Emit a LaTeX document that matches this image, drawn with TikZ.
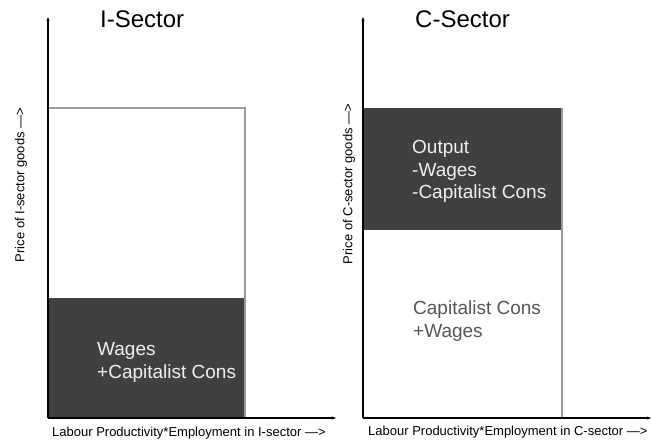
\documentclass[tikz,border=0pt]{standalone}
\usepackage{fontspec}
\setmainfont{Liberation Sans}
\usetikzlibrary{arrows.meta}
\definecolor{darkfill}{HTML}{404040}
\definecolor{boxline}{HTML}{9A9A9A}
\definecolor{lighttext}{HTML}{F0F0F0}
\definecolor{graytext}{HTML}{555555}
\begin{document}
\begin{tikzpicture}[x=1pt,y=-1pt,
  axis/.style={draw=black,line width=1.1pt,-{Stealth[length=4pt,width=3pt]}},
  frame/.style={draw=boxline,line width=1.2pt},
  dark/.style={fill=darkfill},
  title/.style={anchor=base west,inner sep=0pt,font=\fontsize{24}{28}\selectfont},
  axlabel/.style={inner sep=0pt,font=\fontsize{13}{15}\selectfont},
  boxtext/.style={anchor=base west,inner sep=0pt,align=left,font=\fontsize{19}{22.5}\selectfont}]
\useasboundingbox (0,0) rectangle (651,441);
% ---------- I-sector ----------
\coordinate (Io) at (48,418);
\coordinate (Iy) at (48,17);
\coordinate (Ix) at (336,418);
\coordinate (Itl) at (48,108);
\coordinate (Itr) at (245,108);
\coordinate (Imr) at (245,298);
\coordinate (Ibr) at (245,418);
\fill[dark] (48,298) rectangle (Ibr);
\draw[frame] (Itl) -- (Itr) -- (Ibr);
\draw[axis] (Io) -- (Iy);
\draw[axis] (Io) -- (Ix);
\node[title] (Ititle) at (100,28) {I-Sector};
\node[axlabel,rotate=90] (Iylab) at (21,185) {Price of I-sector goods —>};
\node[axlabel,anchor=base west] (Ixlab) at (52,436) {Labour Productivity*Employment in I-sector —>};
\node[boxtext,text=lighttext] (Iwages) at (97,378) {Wages\\+Capitalist Cons};
% ---------- C-sector ----------
\coordinate (Co) at (363,418);
\coordinate (Cy) at (363,17);
\coordinate (Cx) at (651,418);
\coordinate (Ctl) at (363,108);
\coordinate (Ctr) at (562,108);
\coordinate (Cmr) at (562,230);
\coordinate (Cbr) at (562,418);
\fill[dark] (Ctl) rectangle (Cmr);
\draw[frame] (Ctr) -- (Cbr);
\draw[axis] (Co) -- (Cy);
\draw[axis] (Co) -- (Cx);
\node[title] (Ctitle) at (415,28) {C-Sector};
\node[axlabel,rotate=90] (Cylab) at (349,184) {Price of C-sector goods —>};
\node[axlabel,anchor=base west] (Cxlab) at (368,435) {Labour Productivity*Employment in C-sector —>};
\node[boxtext,text=lighttext] (Cout) at (412,199) {Output\\-Wages\\-Capitalist Cons};
\node[boxtext,text=graytext] (Ccons) at (413,337) {Capitalist Cons\\+Wages};
\end{tikzpicture}
\end{document}
